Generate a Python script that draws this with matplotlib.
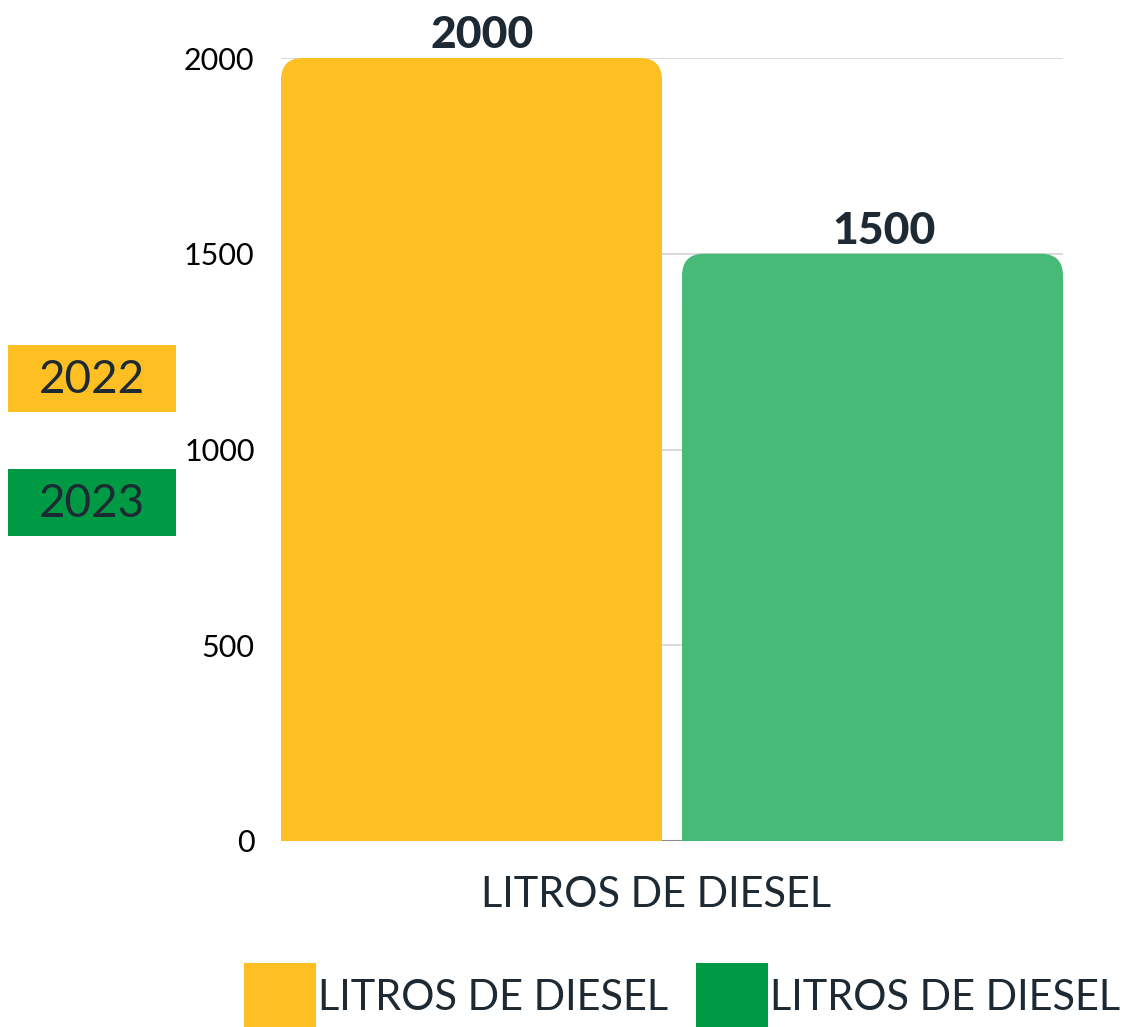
import matplotlib
matplotlib.use("Agg")
import matplotlib.pyplot as plt
from matplotlib.patches import FancyBboxPatch, Rectangle

# data
years = ["2022", "2023"]
values = [2000, 1500]
category = "LITROS DE DIESEL"
bar_colors = ["#FDBF22", "#48BA78"]
legend_colors = ["#FDBF22", "#009A44"]
yticks = [0, 500, 1000, 1500, 2000]

dark = "#1E2A33"
plt.rcParams["font.family"] = ["Lato", "DejaVu Sans"]

fig = plt.figure(figsize=(11.32, 10.27), dpi=100)
W, H = 1132, 1027
ax = fig.add_axes([281 / W, 1 - 841 / H, (1063 - 281) / W, (841 - 58) / H])

x = [0, 1]
bars = ax.bar(x, values, width=0.95, color="none")
ax.set_xlim(-0.475, 1.475)
ax.set_ylim(0, 2000)

# rounded tops: radius in pixels converted to data units
r_px = 22
px_x = 1.95 / (1063 - 281)
px_y = 2000 / (841 - 58)
rx, ry = r_px * px_x, r_px * px_y
for b, c in zip(bars, bar_colors):
    bx, bw, bh = b.get_x(), b.get_width(), b.get_height()
    ax.add_patch(FancyBboxPatch((bx, 0), bw, bh,
                                boxstyle=f"round,pad=0,rounding_size={rx}",
                                mutation_aspect=ry / rx, fc=c, ec="none", zorder=3))
    ax.add_patch(Rectangle((bx, 0), bw, bh - 2 * ry, fc=c, ec="none", zorder=3))
    ax.annotate(str(int(bh)), (b.get_x() + bw / 2, bh), xytext=(8, 2),
                textcoords="offset points", ha="center", va="bottom",
                fontsize=32, fontweight="black", color=dark)

ax.set_yticks(yticks)
ax.set_yticklabels([str(t) for t in yticks], fontsize=22, color="black")
ax.tick_params(axis="y", length=0, pad=19)
ax.set_xticks([])
for s in ax.spines.values():
    s.set_visible(False)
ax.grid(axis="y", color="#D3D3D3", linewidth=1.2, zorder=0)
ax.axhline(0, color="#8A8A8A", linewidth=1.5, zorder=1)
ax.set_axisbelow(True)

# fit category texts to 350 px wide
renderer = fig.canvas.get_renderer()


def fit_text(t, target):
    w = t.get_window_extent(renderer).width
    t.set_fontsize(t.get_fontsize() * target / w)


xl = fig.text(656 / W, 1 - 895 / H, category, ha="center", va="center",
              fontsize=33, color=dark)
fit_text(xl, 352)

# left year boxes
box_tops = [345, 469]
for yr, c, top in zip(years, legend_colors, box_tops):
    fig.patches.append(Rectangle((8 / W, 1 - (top + 67) / H), 168 / W, 67 / H,
                                 transform=fig.transFigure, fc=c, ec="none"))
    fig.text(92 / W, 1 - (top + 35) / H, yr, ha="center", va="center",
             fontsize=33, color=dark)

# bottom legend
leg_x = [244, 696]
for lx, c in zip(leg_x, legend_colors):
    fig.patches.append(Rectangle((lx / W, 0), 72 / W, 64 / H,
                                 transform=fig.transFigure, fc=c, ec="none"))
    lt = fig.text((lx + 74) / W, 1 - 998 / H, category, ha="left", va="center",
                  fontsize=33, color=dark)
    fit_text(lt, 352)

fig.savefig("out.png", dpi=100)
